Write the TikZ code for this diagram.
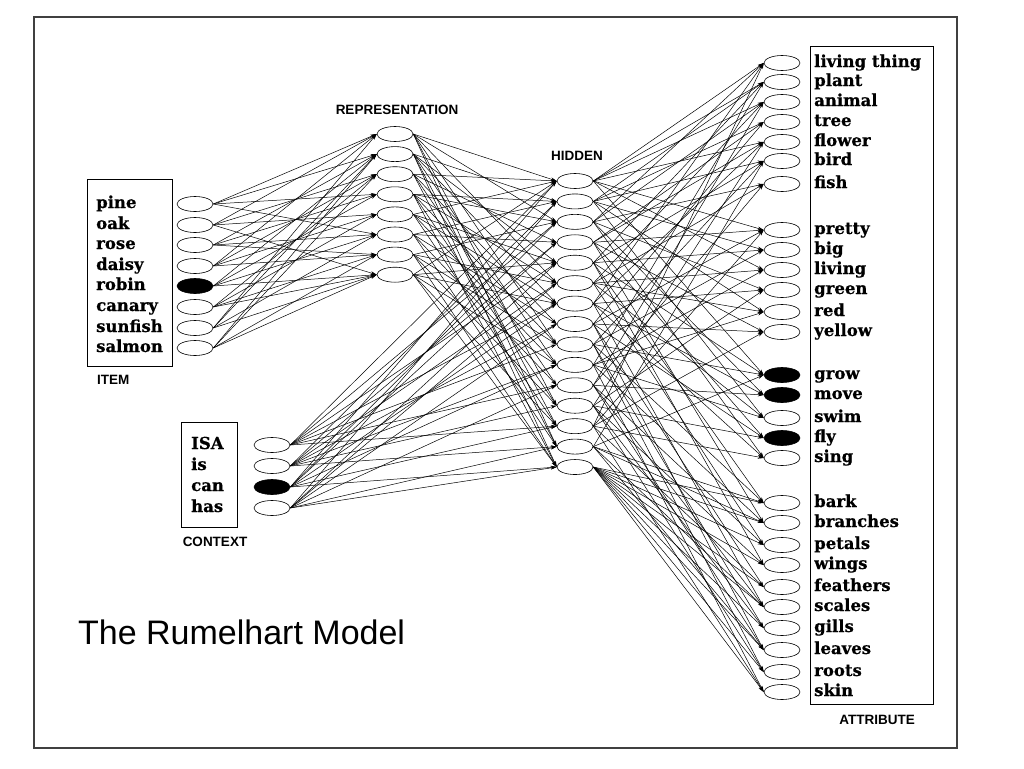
\documentclass[tikz,border=0pt]{standalone}
\usepackage{fontspec}
\setmainfont{DejaVu Serif}
\newfontfamily\wordfont[FakeBold=0.6]{DejaVu Serif Bold}
\newfontfamily\lblfont{Liberation Sans}
\usetikzlibrary{shapes.geometric,arrows.meta}
\begin{document}
\begin{tikzpicture}[x=1pt,y=-1pt,
  unit/.style={ellipse,draw,line width=0.6pt,minimum width=36pt,minimum height=15pt,inner sep=0pt,fill=white},
  on/.style={unit,fill=black},
  word/.style={anchor=base west,inner sep=0pt,font=\wordfont\fontsize{16.5}{16.5}\selectfont},
  layertitle/.style={inner sep=0pt,font=\lblfont\bfseries\fontsize{13.5}{13.5}\selectfont},
  conn/.style={line width=0.5pt,-{Stealth[length=6pt,width=3.5pt]}},
  boxframe/.style={draw,line width=0.8pt}]
\path[fill=white] (0,0) rectangle (1024,768);
\useasboundingbox (0,0) rectangle (1024,768);
\draw[line width=1.1pt,black!75] (34,17) rectangle (957,748);

% boxes
\draw[boxframe] (87,179) rectangle (172,366);
\draw[boxframe] (181,422) rectangle (237,527);
\draw[boxframe] (810,46) rectangle (933,704);

% item units
\foreach \yy/\n/\s [count=\i] in {204/pine/unit,225/oak/unit,245/rose/unit,266/daisy/unit,286/robin/on,307/canary/unit,328/sunfish/unit,348/salmon/unit}{
  \node[\s] (i\i) at (195,\yy) {};
  \node[word] (li\i) at (96,\yy+4) {\n};
}
% representation units
\foreach \i in {1,...,8}{
  \node[unit] (r\i) at (395,{134+(\i-1)*20.1}) {};
}
% hidden units
\foreach \i in {1,...,15}{
  \node[unit] (h\i) at (575,{181+(\i-1)*20.43}) {};
}
% context units
\foreach \yy/\n/\s [count=\i] in {445/ISA/unit,466/is/unit,487/can/on,508/has/unit}{
  \node[\s] (c\i) at (272,\yy) {};
  \node[word] (lc\i) at (191,\yy+4) {\n};
}
% attribute units
\foreach \yy/\n/\s [count=\i] in {63/living thing/unit,82/plant/unit,102/animal/unit,122/tree/unit,142/flower/unit,161/bird/unit,184/fish/unit,
  230/pretty/unit,250/big/unit,270/living/unit,290/green/unit,312/red/unit,332/yellow/unit,
  375/grow/on,395/move/on,418/swim/unit,438/fly/on,458/sing/unit,
  503/bark/unit,523/branches/unit,545/petals/unit,565/wings/unit,587/feathers/unit,607/scales/unit,628/gills/unit,650/leaves/unit,672/roots/unit,692/skin/unit}{
  \node[\s] (a\i) at (782,\yy) {};
  \node[word] (la\i) at (814,\yy+4) {\n};
}

% layer titles
\node[layertitle,anchor=west] (tItem) at (97,380) {ITEM};
\node[layertitle] (tContext) at (215,542) {CONTEXT};
\node[layertitle] (tRep) at (397,110) {REPRESENTATION};
\node[layertitle] (tHid) at (577,156) {HIDDEN};
\node[layertitle] (tAttr) at (877,720) {ATTRIBUTE};

\node[inner sep=0pt,anchor=west,font=\lblfont\fontsize{34}{34}\selectfont] (title) at (78,632) {The Rumelhart Model};

% item -> representation
\foreach \s/\lst in {1/{1,2,4,6},2/{1,3,5,8},3/{2,4,6,7},4/{1,3,5,7},5/{2,4,6,8},6/{3,5,7,8},7/{1,2,6,8},8/{2,3,7,8}}{
  \foreach \t in \lst {\draw[conn] (i\s.east) -- (r\t.west);}
}
% representation -> hidden
\foreach \s/\lst in {1/{1,3,6,9,12,14},2/{2,5,7,10,13,15},3/{1,4,8,11,14},4/{2,3,6,9,12,15},5/{1,5,7,10,13},6/{2,4,8,11,14},7/{3,6,9,12,15},8/{1,5,7,10,13,15}}{
  \foreach \t in \lst {\draw[conn] (r\s.east) -- (h\t.west);}
}
% context -> hidden
\foreach \s/\lst in {1/{1,3,5,7,9,11,13},2/{2,4,6,8,10,12,14},3/{1,3,4,7,10,13,15},4/{2,5,6,8,11,14,15}}{
  \foreach \t in \lst {\draw[conn] (c\s.east) -- (h\t.west);}
}
% hidden -> attribute
\foreach \s/\lst in {1/{1,2,3,5,8,10,14},2/{2,4,6,9,12,16},3/{1,3,7,11,15,18},4/{4,5,8,13,17,20},5/{2,6,9,14,19,22},6/{3,7,10,12,16,21},7/{1,5,11,15,18,24},8/{4,8,13,17,23,26},9/{6,9,14,19,25,27},10/{2,10,12,16,20,28},11/{3,7,15,21,24,26},12/{5,11,17,22,25,27},13/{1,8,13,18,23,28},14/{6,14,19,20,24,26},15/{19,20,21,22,23,24,25,26,27,28}}{
  \foreach \t in \lst {\draw[conn] (h\s.east) -- (a\t.west);}
}
\end{tikzpicture}
\end{document}
